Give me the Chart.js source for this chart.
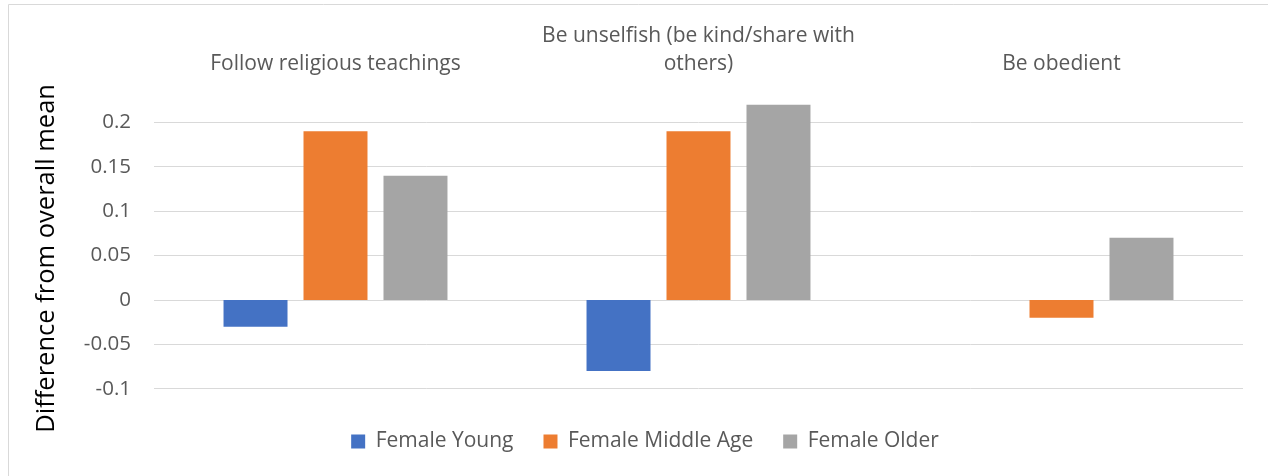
<!DOCTYPE html>
<html>
<head>
<meta charset="utf-8">
<script src="https://cdn.jsdelivr.net/npm/chart.js@4.4.1/dist/chart.umd.min.js"></script>
<style>
  html, body { margin: 0; padding: 0; background: #ffffff; }
  #wrap { position: relative; width: 1268px; height: 476px; }
</style>
</head>
<body>
<div id="wrap"><canvas id="c" width="1268" height="476"></canvas></div>
<script>
// Categories (value statements) and the three female age groups
const categories = [
  'Follow religious teachings',
  ['Be unselfish (be kind/share with', 'others)'],
  'Be obedient'
];
const seriesNames = ['Female Young', 'Female Middle Age', 'Female Older'];
const femaleYoung = [-0.03, -0.08, 0];
const femaleMiddleAge = [0.19, 0.19, -0.02];
const femaleOlder = [0.14, 0.22, 0.07];
const seriesColors = ['#4472C4', '#ED7D31', '#A5A5A5'];

// Value axis
const yTickLabels = ['-0.1', '-0.05', '0', '0.05', '0.1', '0.15', '0.2'];
const yMin = -0.1;
const yMax = 0.25;
const yStep = 0.05;
const yAxisTitle = 'Difference from overall mean';

const FONT = '"Open Sans", Lato, sans-serif';
const TEXT_GREY = '#595959';
const GRID_GREY = '#d9d9d9';
const PAD_LEFT = 47;

// Thin frame along the top and left edges of the canvas
const framePlugin = {
  id: 'frame',
  beforeDraw(chart) {
    const ctx = chart.ctx;
    ctx.save();
    ctx.strokeStyle = GRID_GREY;
    ctx.lineWidth = 1;
    ctx.beginPath();
    ctx.moveTo(8.5, chart.height);
    ctx.lineTo(8.5, 4.5);
    ctx.lineTo(chart.width, 4.5);
    ctx.stroke();
    ctx.restore();
  }
};

// Rotated value-axis title
const axisTitlePlugin = {
  id: 'axisTitle',
  afterDraw(chart) {
    const ctx = chart.ctx;
    const area = chart.chartArea;
    ctx.save();
    ctx.translate(47, (area.top + area.bottom) / 2 + 25);
    ctx.rotate(-Math.PI / 2);
    ctx.textAlign = 'center';
    ctx.textBaseline = 'middle';
    ctx.font = '25.5px ' + FONT;
    ctx.fillStyle = '#000000';
    ctx.fillText(yAxisTitle, 0, 0);
    ctx.restore();
  }
};

new Chart(document.getElementById('c'), {
  type: 'bar',
  data: {
    labels: categories,
    datasets: [
      { label: seriesNames[0], data: femaleYoung, backgroundColor: seriesColors[0] },
      { label: seriesNames[1], data: femaleMiddleAge, backgroundColor: seriesColors[1] },
      { label: seriesNames[2], data: femaleOlder, backgroundColor: seriesColors[2] }
    ]
  },
  options: {
    responsive: false,
    animation: false,
    devicePixelRatio: 1,
    layout: { padding: { left: PAD_LEFT, top: 0, right: 25, bottom: 14 } },
    datasets: {
      bar: { categoryPercentage: 0.661, barPercentage: 0.8, borderWidth: 0 }
    },
    scales: {
      x: {
        position: 'top',
        grid: { display: false, drawTicks: false },
        border: { display: false },
        ticks: {
          autoSkip: false,
          maxRotation: 0,
          padding: 0,
          color: TEXT_GREY,
          font: { family: FONT, size: 21, lineHeight: '28px' }
        },
        afterFit(scale) { scale.height = 78; }
      },
      y: {
        min: yMin,
        max: yMax,
        grid: {
          drawTicks: false,
          color: (c) => (c.index < yTickLabels.length ? GRID_GREY : 'rgba(0,0,0,0)'),
          lineWidth: 1
        },
        border: { display: false },
        ticks: {
          stepSize: yStep,
          padding: 23,
          color: TEXT_GREY,
          font: { family: FONT, size: 20.5 },
          callback: (v, i) => (i < yTickLabels.length ? yTickLabels[i] : '')
        },
        afterFit(scale) { scale.width = 154 - PAD_LEFT; }
      }
    },
    plugins: {
      tooltip: { enabled: false },
      legend: {
        position: 'bottom',
        title: { display: true, text: '', font: { size: 1 }, padding: { top: 11, bottom: 0 } },
        labels: {
          boxWidth: 14,
          boxHeight: 14,
          padding: 30,
          color: TEXT_GREY,
          font: { family: FONT, size: 21 }
        }
      }
    }
  },
  plugins: [framePlugin, axisTitlePlugin]
});
</script>
</body>
</html>
